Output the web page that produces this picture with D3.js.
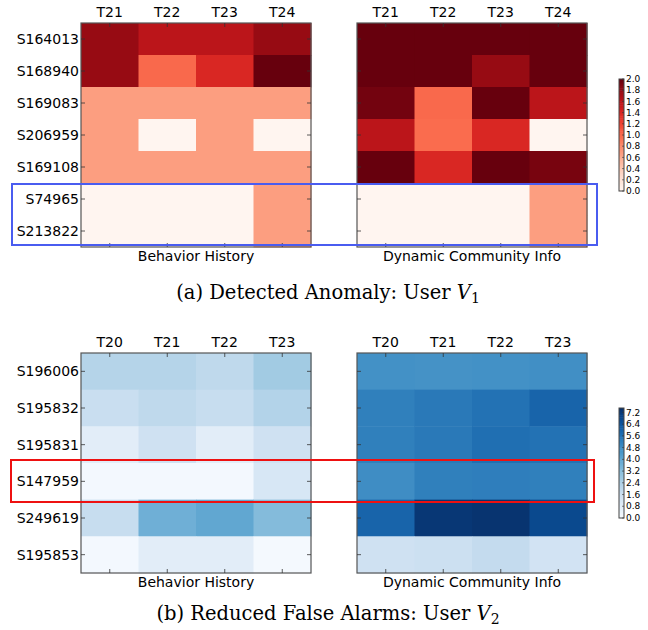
<!DOCTYPE html>
<html>
<head>
<meta charset="utf-8">
<script src="https://cdn.jsdelivr.net/npm/d3@7"></script>
<style>
  body { margin: 0; background: #fff; }
  svg text { font-family: "DejaVu Sans", sans-serif; }
</style>
</head>
<body>
<div id="chart"></div>
<script>
// panel (a): detected anomaly, user V1
const colsA = ['T21', 'T22', 'T23', 'T24'];
const rowsA = ['S164013', 'S168940', 'S169083', 'S206959', 'S169108', 'S74965', 'S213822'];
const behaviorA = [
  [1.8, 1.6, 1.6, 1.8],
  [1.8, 1.0, 1.4, 2.0],
  [0.68, 0.68, 0.68, 0.68],
  [0.68, 0.0, 0.68, 0.0],
  [0.68, 0.68, 0.68, 0.68],
  [0.0, 0.0, 0.0, 0.68],
  [0.0, 0.0, 0.0, 0.68]
];
const communityA = [
  [2.0, 2.0, 2.0, 2.0],
  [2.0, 2.0, 1.8, 2.0],
  [1.95, 1.0, 2.0, 1.6],
  [1.6, 0.98, 1.4, 0.0],
  [2.0, 1.4, 2.0, 1.93],
  [0.0, 0.0, 0.0, 0.68],
  [0.0, 0.0, 0.0, 0.68]
];
const ticksA = [0.0, 0.2, 0.4, 0.6, 0.8, 1.0, 1.2, 1.4, 1.6, 1.8, 2.0];

// panel (b): reduced false alarms, user V2
const colsB = ['T20', 'T21', 'T22', 'T23'];
const rowsB = ['S196006', 'S195832', 'S195831', 'S147959', 'S249619', 'S195853'];
const behaviorB = [
  [2.25, 2.25, 2.0, 2.7],
  [1.7, 2.0, 1.75, 2.3],
  [0.8, 1.5, 0.8, 1.5],
  [0.15, 0.15, 0.15, 1.2],
  [1.75, 3.7, 4.0, 3.3],
  [0.15, 0.8, 0.8, 0.1]
];
const communityB = [
  [4.7, 4.65, 4.7, 4.75],
  [5.2, 5.4, 5.6, 6.0],
  [5.2, 5.4, 5.7, 5.6],
  [4.8, 5.2, 5.25, 5.2],
  [6.0, 7.3, 7.4, 6.8],
  [1.5, 1.6, 1.85, 1.4]
];
const ticksB = [0.0, 0.8, 1.6, 2.4, 3.2, 4.0, 4.8, 5.6, 6.4, 7.2];

const width = 648, height = 630;
const svg = d3.select('#chart').append('svg')
  .attr('width', width)
  .attr('height', height);

function heatmap(rows, cols, values, color, box, label, showRows) {
  const g = svg.append('g');
  const x = d3.scaleBand().domain(cols).range([box.x0, box.x1]);
  const y = d3.scaleBand().domain(rows).range([box.y0, box.y1]);

  rows.forEach((r, i) => {
    g.selectAll(null)
      .data(values[i])
      .join('rect')
        .attr('x', (d, j) => x(cols[j]))
        .attr('y', y(r))
        .attr('width', x.bandwidth() + 0.5)
        .attr('height', y.bandwidth() + 0.5)
        .attr('fill', d => color(d));
  });

  g.append('rect')
    .attr('x', box.x0).attr('y', box.y0)
    .attr('width', box.x1 - box.x0).attr('height', box.y1 - box.y0)
    .attr('fill', 'none').attr('stroke', '#555').attr('stroke-width', 1.2);

  // inward ticks, matplotlib classic style
  const tk = g.append('g').attr('stroke', '#333').attr('stroke-width', 0.8);
  cols.forEach(c => {
    const cx = x(c) + x.bandwidth() / 2;
    tk.append('line').attr('x1', cx).attr('x2', cx).attr('y1', box.y0).attr('y2', box.y0 + 4);
    tk.append('line').attr('x1', cx).attr('x2', cx).attr('y1', box.y1).attr('y2', box.y1 - 4);
  });
  rows.forEach(r => {
    const cy = y(r) + y.bandwidth() / 2;
    tk.append('line').attr('y1', cy).attr('y2', cy).attr('x1', box.x0).attr('x2', box.x0 + 4);
    tk.append('line').attr('y1', cy).attr('y2', cy).attr('x1', box.x1).attr('x2', box.x1 - 4);
  });

  g.selectAll('.colLabel')
    .data(cols)
    .join('text')
      .attr('x', d => x(d) + x.bandwidth() / 2)
      .attr('y', box.y0 - 6)
      .attr('text-anchor', 'middle')
      .attr('font-size', 14)
      .text(d => d);

  if (showRows) {
    g.selectAll('.rowLabel')
      .data(rows)
      .join('text')
        .attr('x', box.x0 - 2)
        .attr('y', d => y(d) + y.bandwidth() / 2)
        .attr('dy', '0.36em')
        .attr('text-anchor', 'end')
        .attr('font-size', 14)
        .text(d => d);
  }

  g.append('text')
    .attr('x', (box.x0 + box.x1) / 2)
    .attr('y', box.y1 + 14)
    .attr('text-anchor', 'middle')
    .attr('font-size', 14)
    .text(label);
}

function colorbar(color, domain, ticks, box) {
  const g = svg.append('g');
  const y = d3.scaleLinear().domain(domain).range([box.y1, box.y0]);
  const n = 60;
  const step = (domain[1] - domain[0]) / n;
  g.selectAll('rect.cb')
    .data(d3.range(n))
    .join('rect')
      .attr('x', box.x0)
      .attr('y', i => y(domain[0] + (i + 1) * step))
      .attr('width', box.x1 - box.x0)
      .attr('height', i => y(domain[0] + i * step) - y(domain[0] + (i + 1) * step) + 0.5)
      .attr('fill', i => color(domain[0] + (i + 0.5) * step));
  g.append('rect')
    .attr('x', box.x0).attr('y', box.y0)
    .attr('width', box.x1 - box.x0).attr('height', box.y1 - box.y0)
    .attr('fill', 'none').attr('stroke', '#444').attr('stroke-width', 1);
  g.selectAll('line.t')
    .data(ticks)
    .join('line')
      .attr('x1', box.x1 - 2).attr('x2', box.x1)
      .attr('y1', d => y(d)).attr('y2', d => y(d))
      .attr('stroke', '#333').attr('stroke-width', 0.6);
  g.selectAll('text')
    .data(ticks)
    .join('text')
      .attr('x', box.x1 + 2)
      .attr('y', d => y(d))
      .attr('dy', '0.35em')
      .attr('font-size', 9)
      .text(d => d.toFixed(1));
}

function caption(text, sub, cx, cy) {
  const t = svg.append('text')
    .attr('x', cx).attr('y', cy)
    .attr('text-anchor', 'middle')
    .style('font-family', '"DejaVu Serif", serif')
    .attr('font-size', 19.5);
  t.append('tspan').text(text);
  t.append('tspan').attr('font-style', 'italic').text('V');
  t.append('tspan').attr('font-size', 14).attr('dy', 4).text(sub);
}

const reds = d3.scaleSequential(d3.interpolateReds).domain([0, 2]);
const blues = d3.scaleSequential(d3.interpolateBlues).domain([0, 7.5]);

heatmap(rowsA, colsA, behaviorA, reds, { x0: 81, x1: 311, y0: 23, y1: 247 }, 'Behavior History', true);
heatmap(rowsA, colsA, communityA, reds, { x0: 357, x1: 587, y0: 23, y1: 247 }, 'Dynamic Community Info', false);
colorbar(reds, [0, 2], ticksA, { x0: 619, x1: 624, y0: 79, y1: 191 });

heatmap(rowsB, colsB, behaviorB, blues, { x0: 81, x1: 311, y0: 353, y1: 573 }, 'Behavior History', true);
heatmap(rowsB, colsB, communityB, blues, { x0: 357, x1: 587, y0: 353, y1: 573 }, 'Dynamic Community Info', false);
colorbar(blues, [0, 7.5], ticksB, { x0: 619, x1: 624, y0: 408, y1: 518 });

// highlight boxes
svg.append('rect')
  .attr('x', 12).attr('y', 184).attr('width', 585).attr('height', 61)
  .attr('fill', 'none').attr('stroke', '#4a5cf0').attr('stroke-width', 2);
svg.append('rect')
  .attr('x', 11).attr('y', 460).attr('width', 583).attr('height', 42)
  .attr('fill', 'none').attr('stroke', '#ee1111').attr('stroke-width', 2);

caption('(a) Detected Anomaly: User ', '1', 328, 299);
caption('(b) Reduced False Alarms: User ', '2', 328, 620);
</script>
</body>
</html>
